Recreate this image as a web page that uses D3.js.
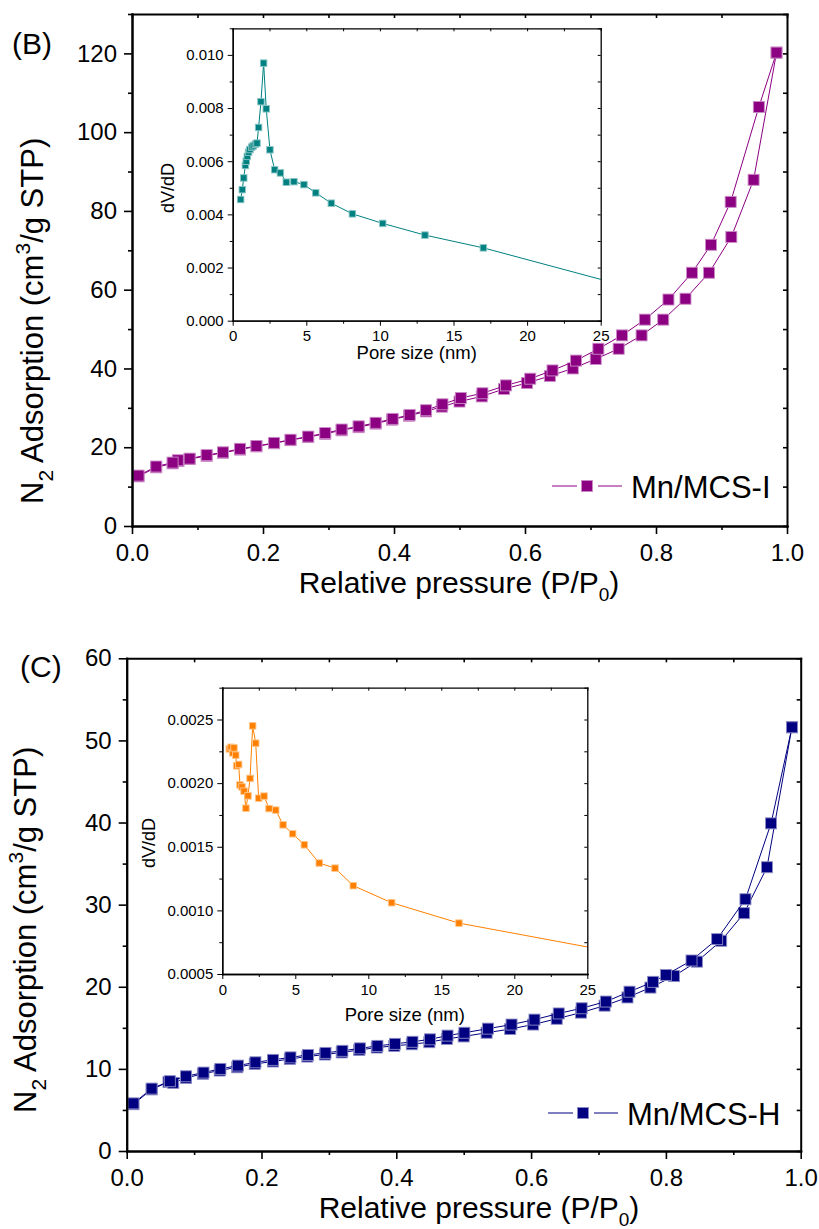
<!DOCTYPE html>
<html>
<head>
<meta charset="utf-8">
<script src="https://cdn.jsdelivr.net/npm/d3@7"></script>
<style>
  body { margin: 0; background: #fff; }
  text { font-family: "Liberation Sans", Arial, Helvetica, sans-serif; fill: #000; }
</style>
</head>
<body>
<svg id="fig" width="819" height="1229"></svg>
<script>
// ---------- Panel (B): Mn/MCS-I nitrogen isotherm ----------
const bAdsP = [0.010,0.037,0.062,0.071,0.088,0.114,0.139,0.165,0.190,0.217,0.242,0.269,0.295,0.320,0.346,0.372,0.397,0.423,0.449,0.473,0.500,0.534,0.568,0.603,0.638,0.673,0.708,0.743,0.778,0.811,0.845,0.881,0.915,0.949,0.984];
const bAdsV = [12.6,14.9,15.9,16.5,17.0,17.8,18.6,19.4,20.2,21.0,21.8,22.6,23.4,24.3,25.1,26.0,27.0,28.0,29.1,30.3,31.6,32.9,34.8,36.3,38.1,40.0,42.4,45.0,48.4,52.4,57.7,64.3,73.4,87.9,120.2];
const bDesP = [0.984,0.957,0.914,0.884,0.855,0.819,0.783,0.748,0.712,0.678,0.642,0.608,0.571,0.535,0.502,0.474,0.449,0.424,0.398,0.372,0.346,0.320,0.295,0.269,0.242,0.217,0.190,0.165,0.139,0.114,0.088,0.070,0.062,0.037,0.010];
const bDesV = [120.2,106.4,82.3,71.4,64.3,57.5,52.4,48.4,45.0,42.0,39.5,37.4,35.7,33.7,32.5,30.9,29.4,28.2,27.2,26.2,25.3,24.5,23.6,22.7,21.9,21.1,20.3,19.6,18.7,18.0,17.1,16.7,16.1,15.1,12.8];
// Panel (B) inset: pore size distribution
const bPoreD = [0.54,0.65,0.75,0.86,0.92,0.99,1.08,1.17,1.29,1.40,1.54,1.65,1.76,1.92,2.10,2.28,2.53,2.85,3.24,3.64,4.16,4.84,5.64,6.70,8.13,10.19,13.06,17.03,25.3];
const bPoreV = [0.00456,0.00493,0.00537,0.00584,0.00600,0.00618,0.00634,0.00644,0.00653,0.00658,0.00664,0.00668,0.00727,0.00824,0.00969,0.00797,0.00643,0.00568,0.00556,0.00521,0.00523,0.00512,0.00481,0.00442,0.00402,0.00366,0.00322,0.00274,0.00151];

// ---------- Panel (C): Mn/MCS-H nitrogen isotherm ----------
const cAdsP = [0.010,0.037,0.062,0.069,0.088,0.113,0.138,0.164,0.190,0.217,0.242,0.268,0.294,0.319,0.345,0.371,0.397,0.423,0.449,0.475,0.500,0.534,0.569,0.603,0.638,0.674,0.709,0.743,0.777,0.812,0.846,0.882,0.916,0.950,0.987];
const cAdsV = [5.7,7.5,8.4,8.3,8.9,9.4,9.8,10.2,10.6,10.9,11.2,11.5,11.75,12.0,12.3,12.6,12.8,13.0,13.25,13.65,13.95,14.4,14.85,15.4,16.1,16.85,17.7,18.7,19.9,21.3,23.06,25.6,28.96,34.56,51.6];
const cDesP = [0.987,0.956,0.918,0.876,0.838,0.800,0.781,0.746,0.711,0.675,0.641,0.605,0.571,0.536,0.501,0.476,0.450,0.424,0.398,0.372,0.346,0.320,0.295,0.269,0.243,0.217,0.191,0.165,0.139,0.114,0.088,0.064,0.037,0.010];
const cDesV = [51.6,39.9,30.66,25.8,23.2,21.44,20.6,19.4,18.2,17.38,16.75,16.0,15.4,14.9,14.4,14.05,13.6,13.3,13.05,12.8,12.5,12.2,11.95,11.7,11.4,11.1,10.8,10.4,10.0,9.55,9.1,8.5,7.6,5.8];
// Panel (C) inset: pore size distribution
const cPoreD = [0.48,0.60,0.71,0.80,0.92,0.98,1.12,1.21,1.35,1.49,1.62,1.76,1.90,2.08,2.29,2.49,2.86,3.20,3.66,4.16,4.82,5.62,6.64,7.72,8.97,11.60,16.21,27.0];
const cPoreV = [0.002269,0.002282,0.002238,0.002277,0.00222,0.002136,0.002147,0.001986,0.00197,0.001937,0.001803,0.0019,0.002037,0.00245,0.002314,0.001882,0.001898,0.0018,0.001788,0.001672,0.001602,0.001515,0.001372,0.001332,0.001194,0.00106,0.0009,0.00067];

// ---------- Ticks and labels ----------
const mainXTicks = [0, 0.2, 0.4, 0.6, 0.8, 1.0];
const mainXMinor = [0.1, 0.3, 0.5, 0.7, 0.9];
const bYTicks = [0, 20, 40, 60, 80, 100, 120];
const bYMinor = [10, 30, 50, 70, 90, 110, 130];
const cYTicks = [0, 10, 20, 30, 40, 50, 60];
const cYMinor = [5, 15, 25, 35, 45, 55];
const poreXTicks = [0, 5, 10, 15, 20, 25];
const poreXMinor = [2.5, 7.5, 12.5, 17.5, 22.5];
const bPoreYTicks = [0, 0.002, 0.004, 0.006, 0.008, 0.010];
const bPoreYMinor = [0.001, 0.003, 0.005, 0.007, 0.009, 0.011];
const cPoreYTicks = [0.0005, 0.0010, 0.0015, 0.0020, 0.0025];
const cPoreYMinor = [0.00075, 0.00125, 0.00175, 0.00225, 0.00275];

const seriesNames = ["Mn/MCS-I", "Mn/MCS-H"];
const panelLabels = ["(B)", "(C)"];

const svg = d3.select("#fig");
svg.append("rect").attr("width", 819).attr("height", 1229).attr("fill", "#fff");

function zip(a, b) { return a.map((v, i) => [v, b[i]]); }

// Framed axes with outward ticks on bottom/left and inward ticks on top/right
function drawFrame(g, x, y, o) {
  const [x0, x1] = x.range();
  const [y0, y1] = y.range();
  const sw = o.stroke;
  const ax = (sel) => sel.selectAll("path").attr("stroke", "#000").attr("stroke-width", sw);
  const tk = (sel) => sel.selectAll("line").attr("stroke", "#000").attr("stroke-width", o.tickStroke);

  // bottom
  g.append("g").attr("transform", `translate(0,${y0})`)
    .call(d3.axisBottom(x).tickValues(o.xMinor).tickSize(o.minor).tickSizeOuter(0).tickFormat(""))
    .call(ax).call(tk);
  const xb = g.append("g").attr("transform", `translate(0,${y0})`)
    .call(d3.axisBottom(x).tickValues(o.xTicks).tickSize(o.major).tickSizeOuter(0)
      .tickPadding(o.xPad).tickFormat(o.xFmt))
    .call(ax).call(tk);
  xb.selectAll("text").attr("font-size", o.fs).attr("fill", "#000").attr("font-family", null);
  // left
  g.append("g").attr("transform", `translate(${x0},0)`)
    .call(d3.axisLeft(y).tickValues(o.yMinor).tickSize(o.minor).tickSizeOuter(0).tickFormat(""))
    .call(ax).call(tk);
  const yl = g.append("g").attr("transform", `translate(${x0},0)`)
    .call(d3.axisLeft(y).tickValues(o.yTicks).tickSize(o.major).tickSizeOuter(0)
      .tickPadding(o.yPad).tickFormat(o.yFmt))
    .call(ax).call(tk);
  yl.selectAll("text").attr("font-size", o.fs).attr("fill", "#000").attr("font-family", null);
  // top (inward)
  g.append("g").attr("transform", `translate(0,${y1})`)
    .call(d3.axisTop(x).tickValues(o.xTicks.concat(o.xMinor)).tickSize(-o.inner).tickSizeOuter(0).tickFormat(""))
    .call(ax).call(tk);
  // right (inward)
  g.append("g").attr("transform", `translate(${x1},0)`)
    .call(d3.axisRight(y).tickValues(o.yTicks.concat(o.yMinor)).tickSize(-o.inner).tickSizeOuter(0).tickFormat(""))
    .call(ax).call(tk);
  g.selectAll(".domain").attr("stroke-linecap", "square");
}

function drawSeries(g, x, y, pts, color, size, clipId) {
  const edge = d3.interpolateRgb(color, "#fff")(0.55);
  const line = d3.line().x(d => x(d[0])).y(d => y(d[1]));
  const s = g.append("g");
  if (clipId) s.attr("clip-path", `url(#${clipId})`);
  s.append("path").datum(pts).attr("d", line)
    .attr("fill", "none").attr("stroke", color).attr("stroke-width", 1);
  s.selectAll("rect.m").data(pts).join("rect").attr("class", "m")
    .attr("x", d => x(d[0]) - size / 2).attr("y", d => y(d[1]) - size / 2)
    .attr("width", size).attr("height", size)
    .attr("fill", color).attr("stroke", edge).attr("stroke-width", 0.9);
}

function drawPanel(p) {
  const g = svg.append("g");
  const x = d3.scaleLinear().domain([0, 1]).range([p.left, p.right]);
  const y = d3.scaleLinear().domain(p.yDomain).range([p.bottom, p.top]);

  drawSeries(g, x, y, zip(p.adsP, p.adsV), p.color, 11);
  drawSeries(g, x, y, zip(p.desP, p.desV), p.color, 11);

  drawFrame(g, x, y, {
    xTicks: mainXTicks, xMinor: mainXMinor, yTicks: p.yTicks, yMinor: p.yMinor,
    xFmt: d3.format(".1f"), yFmt: d3.format("d"),
    major: 8, minor: 4, inner: 4, stroke: 2, tickStroke: 1.6,
    xPad: p.xPad, yPad: 7, fs: 24
  });

  // panel letter
  g.append("text").attr("x", p.labelX).attr("y", p.labelY).attr("font-size", 30).text(p.label);

  // x title
  const xt = g.append("text").attr("x", p.xTitleX).attr("y", p.xTitleY)
    .attr("text-anchor", "middle").attr("font-size", 30);
  xt.append("tspan").text("Relative pressure (P/P");
  xt.append("tspan").attr("font-size", 19).attr("dy", 8).text("0");
  xt.append("tspan").attr("dy", -8).text(")");

  // y title
  const yt = g.append("text").attr("transform", `translate(${p.yTitleX},${p.yTitleY}) rotate(-90)`)
    .attr("font-size", 31);
  yt.append("tspan").text("N");
  yt.append("tspan").attr("font-size", 21).attr("dy", 10).text("2");
  yt.append("tspan").attr("dy", -10).text(" Adsorption (cm");
  yt.append("tspan").attr("font-size", 21).attr("dy", -13).text("3");
  yt.append("tspan").attr("dy", 13).text("/g STP)");

  // legend
  const lg = g.append("g");
  const ly = p.legY, lx = p.legX;
  lg.append("line").attr("x1", lx).attr("x2", lx + 25).attr("y1", ly).attr("y2", ly)
    .attr("stroke", p.color).attr("stroke-width", 1);
  lg.append("line").attr("x1", lx + 46).attr("x2", lx + 70).attr("y1", ly).attr("y2", ly)
    .attr("stroke", p.color).attr("stroke-width", 1);
  lg.append("rect").attr("x", lx + 35 - 5.5).attr("y", ly - 5.5).attr("width", 11).attr("height", 11)
    .attr("fill", p.color).attr("stroke", d3.interpolateRgb(p.color, "#fff")(0.55)).attr("stroke-width", 0.9);
  lg.append("text").attr("x", lx + 79).attr("y", ly + 12).attr("font-size", 31).text(p.name);

  // inset
  const ig = svg.append("g");
  const ix = d3.scaleLinear().domain([0, 25]).range([p.in.left, p.in.right]);
  const iy = d3.scaleLinear().domain(p.in.yDomain).range([p.in.bottom, p.in.top]);
  ig.append("rect").attr("x", p.in.left).attr("y", p.in.top)
    .attr("width", p.in.right - p.in.left).attr("height", p.in.bottom - p.in.top).attr("fill", "#fff");
  const cid = "clip" + p.label.replace(/\W/g, "");
  ig.append("clipPath").attr("id", cid).append("rect")
    .attr("x", p.in.left).attr("y", p.in.top)
    .attr("width", p.in.right - p.in.left).attr("height", p.in.bottom - p.in.top);
  drawSeries(ig, ix, iy, zip(p.in.d, p.in.v), p.in.color, 6.5, cid);
  drawFrame(ig, ix, iy, {
    xTicks: poreXTicks, xMinor: poreXMinor, yTicks: p.in.yTicks, yMinor: p.in.yMinor,
    xFmt: d3.format("d"), yFmt: p.in.yFmt,
    major: 5, minor: 3, inner: 3, stroke: 1.3, tickStroke: 1,
    xPad: 5, yPad: 4, fs: 15
  });
  ig.append("text").attr("x", (p.in.left + p.in.right) / 2).attr("y", p.in.xTitleY)
    .attr("text-anchor", "middle").attr("font-size", 18.5).text("Pore size (nm)");
  ig.append("text").attr("transform", `translate(${p.in.yTitleX},${p.in.yTitleY}) rotate(-90)`)
    .attr("text-anchor", "middle").attr("font-size", 18).text("dV/dD");
}

drawPanel({
  label: panelLabels[0], name: seriesNames[0], color: "#8c0082",
  left: 132, right: 787, top: 14, bottom: 526, yDomain: [0, 130],
  yTicks: bYTicks, yMinor: bYMinor,
  adsP: bAdsP, adsV: bAdsV, desP: bDesP, desV: bDesV,
  xPad: 10, labelX: 12, labelY: 54,
  xTitleX: 459, xTitleY: 593, yTitleX: 43, yTitleY: 504,
  legX: 552, legY: 486,
  in: {
    left: 232.7, right: 600.7, top: 28.3, bottom: 320.7, yDomain: [0, 0.011],
    yTicks: bPoreYTicks, yMinor: bPoreYMinor, yFmt: d3.format(".3f"),
    d: bPoreD, v: bPoreV, color: "#008080",
    xTitleY: 359, yTitleX: 174, yTitleY: 188
  }
});

drawPanel({
  label: panelLabels[1], name: seriesNames[1], color: "#000080",
  left: 126.7, right: 800.7, top: 658.3, bottom: 1151, yDomain: [0, 60],
  yTicks: cYTicks, yMinor: cYMinor,
  adsP: cAdsP, adsV: cAdsV, desP: cDesP, desV: cDesV,
  xPad: 9.5, labelX: 20, labelY: 677,
  xTitleX: 479, xTitleY: 1218, yTitleX: 36, yTitleY: 1113,
  legX: 548, legY: 1113,
  in: {
    left: 222.3, right: 587.3, top: 687.7, bottom: 974, yDomain: [0.0005, 0.00275],
    yTicks: cPoreYTicks, yMinor: cPoreYMinor, yFmt: d3.format(".4f"),
    d: cPoreD, v: cPoreV, color: "#ff8000",
    xTitleY: 1021, yTitleX: 155, yTitleY: 843
  }
});
</script>
</body>
</html>
